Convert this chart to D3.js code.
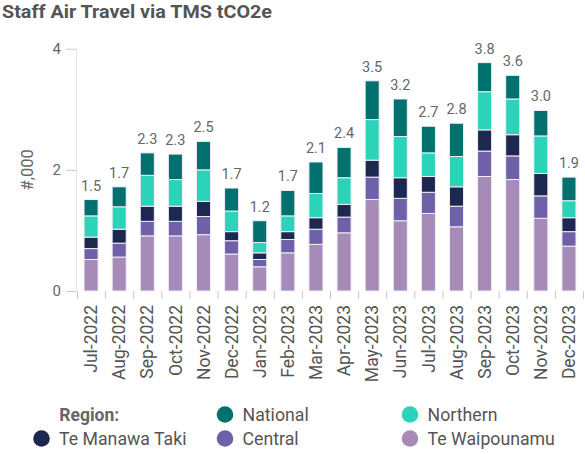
<!DOCTYPE html>
<html>
<head>
<meta charset="utf-8">
<script src="https://cdn.jsdelivr.net/npm/d3@7"></script>
<style>
  html, body { margin: 0; padding: 0; background: #fff; }
  svg { display: block; font-family: Roboto, "Noto Sans", sans-serif; }
</style>
</head>
<body>
<svg id="chart" width="585" height="454"></svg>
<script>
const months = ["Jul-2022","Aug-2022","Sep-2022","Oct-2022","Nov-2022","Dec-2022","Jan-2023","Feb-2023","Mar-2023","Apr-2023","May-2023","Jun-2023","Jul-2023","Aug-2023","Sep-2023","Oct-2023","Nov-2023","Dec-2023"];
const regions = ["Te Waipounamu","Central","Te Manawa Taki","Northern","National"];
const teWaipounamu = [0.52,0.56,0.91,0.91,0.93,0.61,0.40,0.63,0.77,0.96,1.51,1.16,1.28,1.06,1.89,1.84,1.20,0.74];
const central      = [0.18,0.23,0.24,0.24,0.30,0.22,0.12,0.22,0.25,0.26,0.37,0.37,0.35,0.34,0.42,0.39,0.37,0.24];
const teManawaTaki = [0.19,0.23,0.25,0.25,0.25,0.15,0.11,0.13,0.19,0.21,0.28,0.34,0.26,0.32,0.35,0.35,0.37,0.23];
const northern     = [0.35,0.37,0.51,0.44,0.52,0.34,0.17,0.26,0.40,0.44,0.67,0.68,0.39,0.50,0.63,0.59,0.62,0.28];
const national     = [0.27,0.33,0.37,0.42,0.47,0.38,0.36,0.42,0.52,0.50,0.64,0.62,0.44,0.55,0.48,0.39,0.42,0.39];
const yTicks = [0, 2, 4];

const colors = {
  "National": "#00716e",
  "Northern": "#2dd3b8",
  "Te Manawa Taki": "#1c2850",
  "Central": "#6e60a9",
  "Te Waipounamu": "#a68bb8"
};

const seriesValues = {
  "Te Waipounamu": teWaipounamu,
  "Central": central,
  "Te Manawa Taki": teManawaTaki,
  "Northern": northern,
  "National": national
};

const table = months.map((m, i) => {
  const row = { month: m };
  regions.forEach(r => row[r] = seriesValues[r][i]);
  row.total = regions.reduce((s, r) => s + seriesValues[r][i], 0);
  return row;
});

const svg = d3.select("#chart");

svg.append("text")
  .attr("x", 2).attr("y", 18)
  .attr("font-size", 18).attr("font-weight", 700)
  .attr("fill", "#555")
  .attr("textLength", 270).attr("lengthAdjust", "spacingAndGlyphs")
  .text("Staff Air Travel via TMS tCO2e");

const x = d3.scaleBand().domain(months).range([77, 583]).paddingInner(0.5).paddingOuter(0.25);
const y = d3.scaleLinear().domain([0, 4]).range([291, 48.7]);

const stack = d3.stack().keys(regions)(table);

// y axis
const yAxisG = svg.append("g").attr("transform", "translate(76,0)")
  .call(d3.axisLeft(y).tickValues(yTicks).tickSize(10).tickPadding(5).tickFormat(d3.format("d")));
yAxisG.select(".domain").remove();
yAxisG.selectAll(".tick line").attr("stroke", "#c8c8c8");
yAxisG.selectAll(".tick text").attr("font-size", 15).attr("fill", "#666").attr("font-family", "Roboto, sans-serif");
svg.append("line")
  .attr("x1", 76.5).attr("x2", 76.5)
  .attr("y1", y(4)).attr("y2", y(0))
  .attr("stroke", "#e4e4e4");

svg.append("text")
  .attr("transform", `translate(33,${(y(0)+y(4))/2}) rotate(-90)`)
  .attr("text-anchor", "middle")
  .attr("font-size", 16.5).attr("fill", "#666")
  .text("#,000");

// bars
svg.append("g").selectAll("g").data(stack).join("g")
  .attr("fill", d => colors[d.key])
  .selectAll("rect").data(d => d).join("rect")
  .attr("x", d => x(d.data.month))
  .attr("width", x.bandwidth())
  .attr("y", d => y(d[1]))
  .attr("height", d => y(d[0]) - y(d[1]))
  .attr("stroke", "#f2eef5").attr("stroke-width", 1);

// totals
svg.append("g").selectAll("text").data(table).join("text")
  .attr("x", d => x(d.month) + x.bandwidth() / 2)
  .attr("y", d => y(d.total) - 9)
  .attr("text-anchor", "middle")
  .attr("font-size", 14.5).attr("fill", "#666")
  .text(d => d3.format(".1f")(d.total));

// x axis ticks at band boundaries
const step = x.step();
const x0 = x.range()[0];
svg.append("g").selectAll("line").data(d3.range(months.length + 1)).join("line")
  .attr("x1", i => x0 + i * step + 0.5).attr("x2", i => x0 + i * step + 0.5)
  .attr("y1", 291).attr("y2", 299)
  .attr("stroke", "#c8c8c8");

svg.append("g").selectAll("text").data(months).join("text")
  .attr("transform", d => `translate(${x(d) + x.bandwidth()/2},305) rotate(-90)`)
  .attr("text-anchor", "end")
  .attr("dy", "0.35em")
  .attr("font-size", 17.5).attr("fill", "#555")
  .text(d => d);

// legend
const legendItems = [
  { key: "National", cx: 225, cy: 414.5 },
  { key: "Northern", cx: 410, cy: 414.5 },
  { key: "Te Manawa Taki", cx: 41.5, cy: 438.5 },
  { key: "Central", cx: 225, cy: 438.5 },
  { key: "Te Waipounamu", cx: 410, cy: 438.5 }
];
svg.append("text")
  .attr("x", 59.3).attr("y", 414.5).attr("dy", "0.35em")
  .attr("font-size", 17.5).attr("font-weight", 700).attr("fill", "#666")
  .text("Region:");
const lg = svg.append("g").selectAll("g").data(legendItems).join("g");
lg.append("circle").attr("cx", d => d.cx).attr("cy", d => d.cy).attr("r", 8.3).attr("fill", d => colors[d.key]);
lg.append("text").attr("x", d => d.cx + 17.6).attr("y", d => d.cy).attr("dy", "0.35em")
  .attr("font-size", 17.7).attr("fill", "#555").text(d => d.key);
</script>
</body>
</html>
